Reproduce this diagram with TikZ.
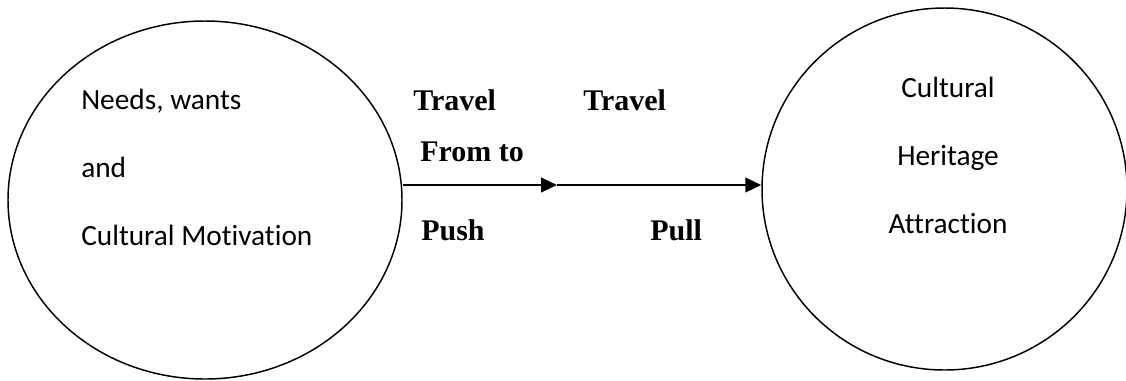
\documentclass[tikz,border=0pt]{standalone}
\usepackage{fontspec}
\setmainfont{Liberation Serif}
\newfontfamily\calib[Ligatures=NoCommon]{Carlito}
\usetikzlibrary{shapes.geometric,arrows.meta}
\begin{document}
\begin{tikzpicture}[x=0.75pt,y=-0.75pt,
  bubble/.style={draw=black,line width=1.1pt,inner sep=0pt},
  intext/.style={font=\calib\fontsize{22}{26}\selectfont,inner sep=0pt},
  lbl/.style={font=\bfseries\fontsize{22.5}{26}\selectfont,inner sep=0pt,anchor=base west},
  arr/.style={line width=1.6pt,-{Triangle[length=12pt,width=11pt]}}]
\useasboundingbox (0,0) rectangle (1126,380);
\node[bubble,ellipse,minimum width=295.5pt,minimum height=268.5pt] (left) at (205,200) {};
\node[bubble,ellipse,minimum width=273.75pt,minimum height=271.5pt] (right) at (944.5,189) {};
\node[intext,anchor=base west] (t1) at (81,109) {Needs, wants};
\node[intext,anchor=base west] (t2) at (81,177) {and};
\node[intext,anchor=base west] (t3) at (81,245) {Cultural Motivation};
\node[intext,anchor=base] (r1) at (948,97) {Cultural};
\node[intext,anchor=base] (r2) at (948,165) {Heritage};
\node[intext,anchor=base] (r3) at (948,233) {Attraction};
\node[lbl] (tr1) at (413,110) {Travel};
\node[lbl] (tr2) at (583,110) {Travel};
\node[lbl] (from) at (420,161) {From to};
\node[lbl] (push) at (421,240) {Push};
\node[lbl] (pull) at (650,240) {Pull};
\coordinate (mid) at (557,185);
\draw[arr] (left.east |- mid) -- (mid);
\draw[arr] (mid) -- (right.west |- mid);
\end{tikzpicture}
\end{document}
